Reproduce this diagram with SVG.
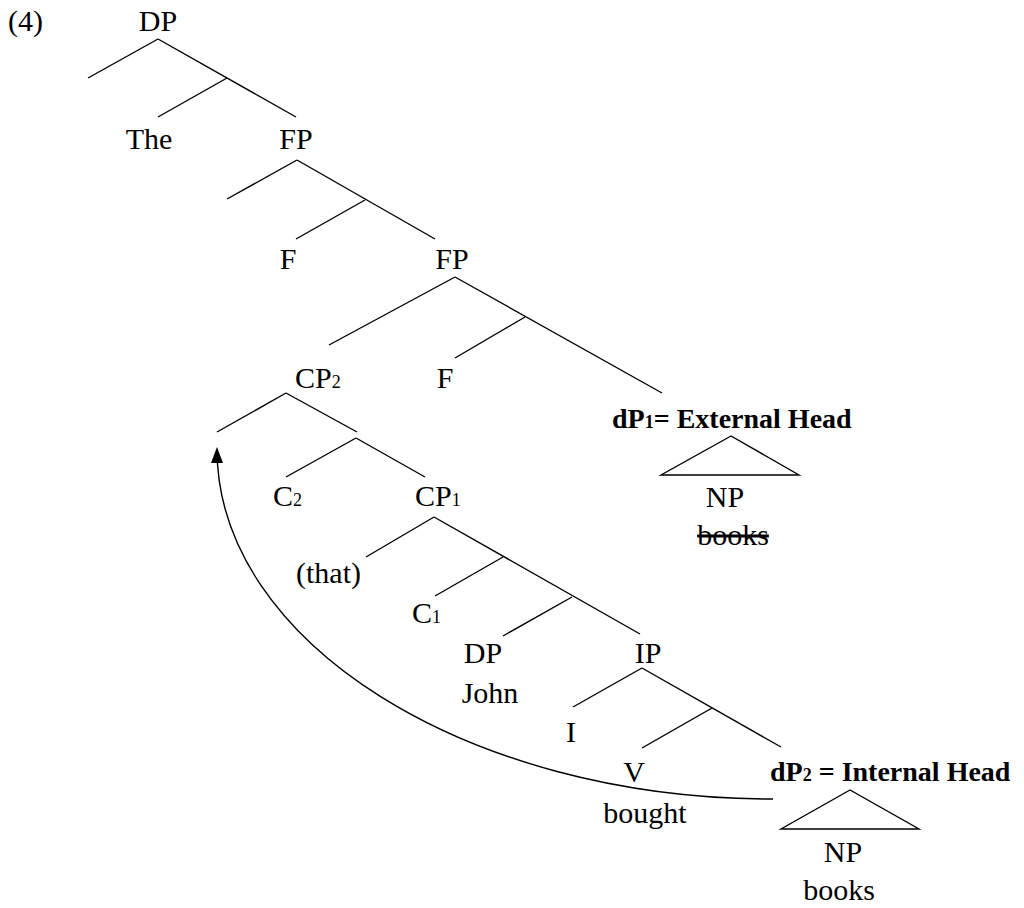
<svg xmlns="http://www.w3.org/2000/svg" width="1024" height="908" viewBox="0 0 1024 908">
<style>
text{font-family:"Liberation Serif","Times New Roman",serif;font-size:30px;fill:#000}
.m{text-anchor:middle}
.b{font-weight:bold;font-size:28px}
.s{font-size:18px}
.ln{stroke:#000;stroke-width:1.4;fill:none}
.head{fill:#000;stroke:none}
</style>
<defs>
<marker id="ah" markerWidth="16" markerHeight="12" refX="14" refY="6" orient="auto" markerUnits="userSpaceOnUse" viewBox="0 0 16 12">
<path class="head" d="M0,0 L16,6 L0,12 Z"/>
</marker>
</defs>
<rect width="1024" height="908" fill="#fff"/>
<g id="connectors" class="ln">
<line x1="158" y1="39" x2="88" y2="78"/>
<line x1="158" y1="39" x2="296" y2="117"/>
<line x1="227" y1="78" x2="158" y2="117"/>
<line x1="297" y1="160" x2="227" y2="199"/>
<line x1="297" y1="160" x2="435" y2="239"/>
<line x1="365" y1="200" x2="296" y2="239"/>
<line x1="455" y1="277" x2="329" y2="345"/>
<line x1="455" y1="277" x2="662" y2="393"/>
<line x1="525" y1="317" x2="455" y2="358"/>
<line x1="286" y1="393" x2="217" y2="432"/>
<line x1="286" y1="393" x2="357" y2="432"/>
<line x1="356" y1="438" x2="286" y2="477"/>
<line x1="356" y1="438" x2="425" y2="477"/>
<line x1="434" y1="517" x2="366" y2="557"/>
<line x1="434" y1="517" x2="640" y2="634"/>
<line x1="503" y1="557" x2="435" y2="596"/>
<line x1="572" y1="597" x2="503" y2="636"/>
<line x1="642" y1="668" x2="573" y2="707"/>
<line x1="642" y1="668" x2="781" y2="747"/>
<line x1="712" y1="708" x2="642" y2="748"/>
<path d="M773,799 C467,799 217,642 217,449" marker-end="url(#ah)"/>
</g>
<g id="n-4"><text x="8" y="31">(4)</text></g>
<g id="n-DP"><text class="m" x="158" y="31">DP</text></g>
<g id="n-The"><text class="m" x="149" y="149">The</text></g>
<g id="n-FP1"><text class="m" x="296" y="149">FP</text></g>
<g id="n-F1"><text class="m" x="288" y="269">F</text></g>
<g id="n-FP2"><text class="m" x="452" y="269">FP</text></g>
<g id="n-CP2"><text x="295" y="388">CP<tspan class="s">2</tspan></text></g>
<g id="n-F2"><text class="m" x="445" y="388">F</text></g>
<g id="n-dP1"><text class="b" x="612" y="428">dP<tspan class="s">1</tspan>= External Head</text></g>
<g id="n-NP1">
<polygon class="ln" points="731,436 661,475 799,475"/>
<text class="m" x="725" y="507">NP</text>
<text class="m" x="733" y="545" text-decoration="line-through">books</text>
</g>
<g id="n-C2"><text x="273" y="506">C<tspan class="s">2</tspan></text></g>
<g id="n-CP1"><text x="415" y="506">CP<tspan class="s">1</tspan></text></g>
<g id="n-that"><text x="296" y="583">(that)</text></g>
<g id="n-C1"><text x="412" y="623">C<tspan class="s">1</tspan></text></g>
<g id="n-DPJohn">
<text class="m" x="483" y="663">DP</text>
<text class="m" x="490" y="703">John</text>
</g>
<g id="n-IP"><text class="m" x="648" y="663">IP</text></g>
<g id="n-I"><text class="m" x="571" y="742">I</text></g>
<g id="n-V">
<text class="m" x="634" y="782">V</text>
<text class="m" x="645" y="823">bought</text>
</g>
<g id="n-dP2"><text class="b" x="770" y="781">dP<tspan class="s">2</tspan> = Internal Head</text></g>
<g id="n-NP2">
<polygon class="ln" points="850,790 781,829 919,829"/>
<text class="m" x="843" y="862">NP</text>
<text class="m" x="839" y="900">books</text>
</g>
</svg>
